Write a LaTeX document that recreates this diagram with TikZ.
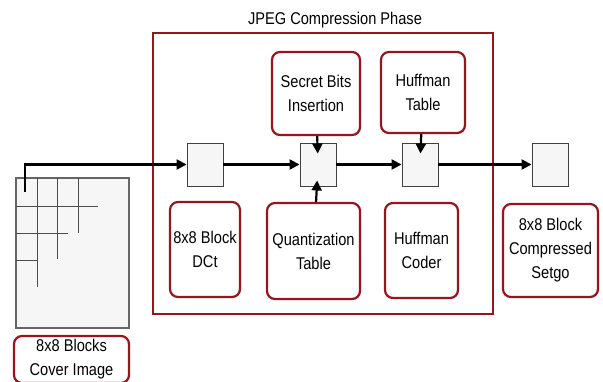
\documentclass[tikz,border=0pt]{standalone}
\usepackage{fontspec}
\setmainfont[FakeStretch=0.86]{Liberation Sans}
\usetikzlibrary{arrows.meta,positioning,shadows}
\definecolor{boxred}{RGB}{150,22,32}
\definecolor{cellgray}{RGB}{246,246,246}

\begin{document}
\begin{tikzpicture}[
  x=1pt, y=-1pt,
  every node/.style={font=\fontsize{17}{24}\selectfont},
  stage/.style={rectangle,draw=boxred,line width=2.2pt,rounded corners=8pt,fill=white,
    align=center,inner sep=0pt,drop shadow={shadow xshift=1pt,shadow yshift=-1pt,opacity=0.25}},
  cell/.style={rectangle,draw=black!75,line width=0.9pt,fill=cellgray,
    minimum width=36pt,minimum height=43pt,inner sep=0pt},
  flow/.style={-{Triangle[length=10pt,width=10pt]},line width=2.2pt},
]
\useasboundingbox (0,0) rectangle (603,381);

% compression phase frame
\draw[boxred,line width=1.1pt] (153,33) rectangle (493,314);
\node (title) at (335,20) {JPEG Compression Phase};

% pipeline cells
\node[cell] (c1) at (205,164.5) {};
\node[cell] (c2) at (318,164.5) {};
\node[cell] (c3) at (420,164.5) {};
\node[cell] (c4) at (550,164.5) {};

% upper stages
\node[stage,minimum width=88pt,minimum height=83pt] (secret) at (316,93.5) {Secret Bits\\Insertion};
\node[stage,minimum width=84pt,minimum height=81pt] (htab) at (423,92.5) {Huffman\\Table};

% lower stages
\node[stage,minimum width=70pt,minimum height=95pt] (dct) at (205,249.5) {8x8 Block\\DCt};
\node[stage,minimum width=93pt,minimum height=96pt] (quant) at (313.5,251) {Quantization\\Table};
\node[stage,minimum width=73pt,minimum height=95pt] (coder) at (421.5,250.5) {Huffman\\Coder};
\node[stage,minimum width=95pt,minimum height=93pt] (out) at (550.5,250.5) {8x8 Block\\Compressed\\Setgo};

% cover image split into blocks
\node[rectangle,draw=black!60,line width=1.1pt,fill=cellgray,
  minimum width=113pt,minimum height=150pt,inner sep=0pt] (cover) at (72.5,253) {};
\draw[black!70,line width=0.9pt]
  (37,178) -- (37,287) (57,178) -- (57,259) (78,178) -- (78,233)
  (16,206) -- (98,206) (16,233) -- (68,233) (16,260) -- (37,260);
\node[stage,minimum width=115pt,minimum height=47pt] (coverlbl) at (71.5,359.5) {8x8 Blocks\\Cover Image};
\coordinate (start) at (25,192);

% data flow
\draw[flow] (start) |- (c1.west);
\draw[flow] (c1) -- (c2);
\draw[flow] (c2) -- (c3);
\draw[flow] (c3) -- (c4);
\draw[flow,shorten >=-11pt] (secret) -- (c2);
\draw[flow,shorten >=-6pt] (quant) -- (c2);
\draw[flow,shorten >=-11pt] (htab) -- (c3);
\end{tikzpicture}
\end{document}
